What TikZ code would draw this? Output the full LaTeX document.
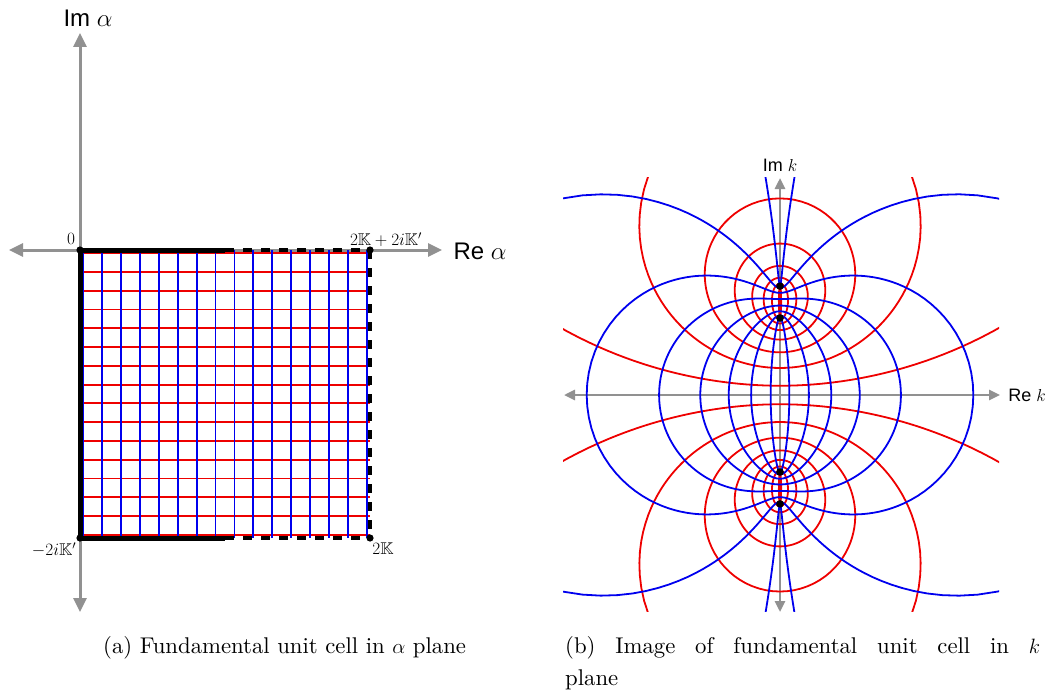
\documentclass[tikz,border=0pt]{standalone}
\usepackage{amssymb}
\usepackage{fontspec}
\setmainfont{lmroman10-regular.otf}[ItalicFont=lmroman10-italic.otf, BoldFont=lmroman10-bold.otf]
\newfontfamily\labfont{Liberation Sans}
\usetikzlibrary{arrows.meta}
\definecolor{axgray}{RGB}{145,145,145}
\definecolor{cred}{RGB}{238,0,0}
\definecolor{cblue}{RGB}{0,0,238}
\tikzset{
  axisL/.style={draw=axgray, line width=3pt, {Triangle[length=14pt,width=13pt]}-{Triangle[length=14pt,width=13pt]}},
  axisR/.style={draw=axgray, line width=2.6pt, {Triangle[length=11pt,width=10pt]}-{Triangle[length=11pt,width=10pt]}},
  gridred/.style={draw=cred, line width=1.9pt},
  gridblue/.style={draw=cblue, line width=1.9pt},
  rcurve/.style={draw=cred, line width=1.8pt, line join=round},
  bcurve/.style={draw=cblue, line width=1.8pt, line join=round},
  solidedge/.style={draw=black, line width=5pt},
  dashedge/.style={draw=black, line width=4.5pt, dash pattern=on 8.5pt off 9.5pt},
  cornerdot/.style={fill=black},
  lablarge/.style={inner sep=0pt, font=\fontsize{24}{28}\selectfont\labfont},
  labsmall/.style={inner sep=0pt, font=\fontsize{18}{22}\selectfont\labfont},
  corner/.style={inner sep=0pt, font=\fontsize{17}{20}\selectfont},
  caption/.style={inner sep=0pt, anchor=base west, font=\fontsize{22.75}{27}\selectfont}
}
% real Jacobi sn, cn, dn for m = 1/2 (nome series)
\newcommand\ellfun[1]{%
  \pgfmathsetmacro\EVV{(#1)*48.54174}%
  \pgfmathsetmacro\ES{1.041274*sin(\EVV)+0.043056*sin(3*\EVV)+0.0018605*sin(5*\EVV)+0.0000804*sin(7*\EVV)}%
  \pgfmathsetmacro\EC{0.955006*cos(\EVV)+0.04305*cos(3*\EVV)+0.0018605*cos(5*\EVV)+0.0000804*cos(7*\EVV)}%
  \pgfmathsetmacro\ED{0.847213+0.146173*cos(2*\EVV)+0.0063285*cos(4*\EVV)+0.0002735*cos(6*\EVV)+0.0000118*cos(8*\EVV)}%
}
\begin{document}
\begin{tikzpicture}[x=1pt,y=-1pt]
\useasboundingbox (0,0) rectangle (1050,693);

% ---------- left panel ----------
\draw[axisL] (9,250) -- (442,250);
\draw[axisL] (80,612) -- (80,33);
\foreach \j in {0,...,15} {
  \pgfmathsetmacro\gp{0.011+0.978*\j/15}
  \draw[gridred] (80,{250+288*\gp}) -- (370,{250+288*\gp});
}
\foreach \j in {0,...,15} {
  \pgfmathsetmacro\gp{0.011+0.978*\j/15}
  \draw[gridblue] ({80+290*\gp},250) -- ({80+290*\gp},538);
}
\coordinate (A) at (80,250);
\coordinate (B) at (370,250);
\coordinate (C) at (370,538);
\coordinate (D) at (80,538);
\coordinate (AB) at (225,250);
\coordinate (DC) at (225,538);
\draw[dashedge] (AB) -- (B);
\draw[dashedge] (DC) -- (C);
\draw[dashedge] (B) -- (C);
\draw[solidedge] (A) -- (D);
\draw[solidedge] (A) -- (AB);
\draw[solidedge] (D) -- (DC);
\foreach \c in {A,B,C,D} { \fill[cornerdot] (\c) circle (3.6pt); }

\node[lablarge] (imal) at (88,18) {Im $\alpha$};
\node[lablarge] (real) at (480,251) {Re $\alpha$};
\node[corner] (z0) at (71,239) {$0$};
\node[corner] (zB) at (386,240) {$2\mathbb{K}+2i\mathbb{K}'$};
\node[corner] (zD) at (54,550) {$-2i\mathbb{K}'$};
\node[corner] (zC) at (383,549) {$2\mathbb{K}$};

% ---------- right panel ----------
\draw[axisR] (564,395) -- (1000,395);
\draw[axisR] (780,612) -- (780,178);

\begin{scope}
\clip (563,177) rectangle (999,611);
% red: Re u = const
\foreach \j in {0,...,15} {
  \pgfmathsetmacro\xx{-1.854075+3.70815*(0.011+0.978*\j/15)}
  \ellfun{\xx}\let\Sx\ES\let\Cx\EC\let\Dx\ED
  \gdef\pts{}
  \foreach \i in {0,...,140} {
    \pgfmathsetmacro\yy{-1.854075+3.70815*\i/140}
    \ellfun{\yy}
    \pgfmathsetmacro\Eden{\EC*\EC+0.5*\Sx*\Sx*\ES*\ES}
    \pgfmathsetmacro\KX{780-77*\Cx*\Dx*\ES*\EC/\Eden}
    \pgfmathsetmacro\KY{395-77*\Sx*\ED/\Eden}
    \xdef\pts{\pts (\KX,\KY)}
  }
  \edef\tmp{\noexpand\draw[rcurve] plot coordinates {\pts};}\tmp
}
% blue: Im u = const
\foreach \j in {0,...,15} {
  \pgfmathsetmacro\yy{-1.854075+3.70815*(0.011+0.978*\j/15)}
  \ellfun{\yy}\let\Sy\ES\let\Cy\EC\let\Dy\ED
  \pgfmathsetmacro\EdenA{\Cy*\Cy}
  \gdef\pts{}
  \foreach \i in {0,...,140} {
    \pgfmathsetmacro\xx{-1.854075+3.70815*\i/140}
    \ellfun{\xx}
    \pgfmathsetmacro\Eden{\EdenA+0.5*\ES*\ES*\Sy*\Sy}
    \pgfmathsetmacro\KX{780-77*\EC*\ED*\Sy*\Cy/\Eden}
    \pgfmathsetmacro\KY{395-77*\ES*\Dy/\Eden}
    \xdef\pts{\pts (\KX,\KY)}
  }
  \edef\tmp{\noexpand\draw[bcurve] plot coordinates {\pts};}\tmp
}
\end{scope}
\coordinate (P1) at (780,286.1);
\coordinate (P2) at (780,318);
\coordinate (P3) at (780,472);
\coordinate (P4) at (780,503.9);
\foreach \c in {P1,P2,P3,P4} { \fill[cornerdot] (\c) circle (3.8pt); }

\node[labsmall] (imk) at (780,165) {Im $k$};
\node[labsmall] (rek) at (1027,395) {Re $k$};

% ---------- captions ----------
\node[caption] (capa) at (103,653) {(a) Fundamental unit cell in $\alpha$ plane};
\node[caption] (capb) at (565,653) {\makebox[475pt][s]{(b) Image of fundamental unit cell in $k$}};
\node[caption] (capc) at (565,685) {plane};
\end{tikzpicture}
\end{document}
